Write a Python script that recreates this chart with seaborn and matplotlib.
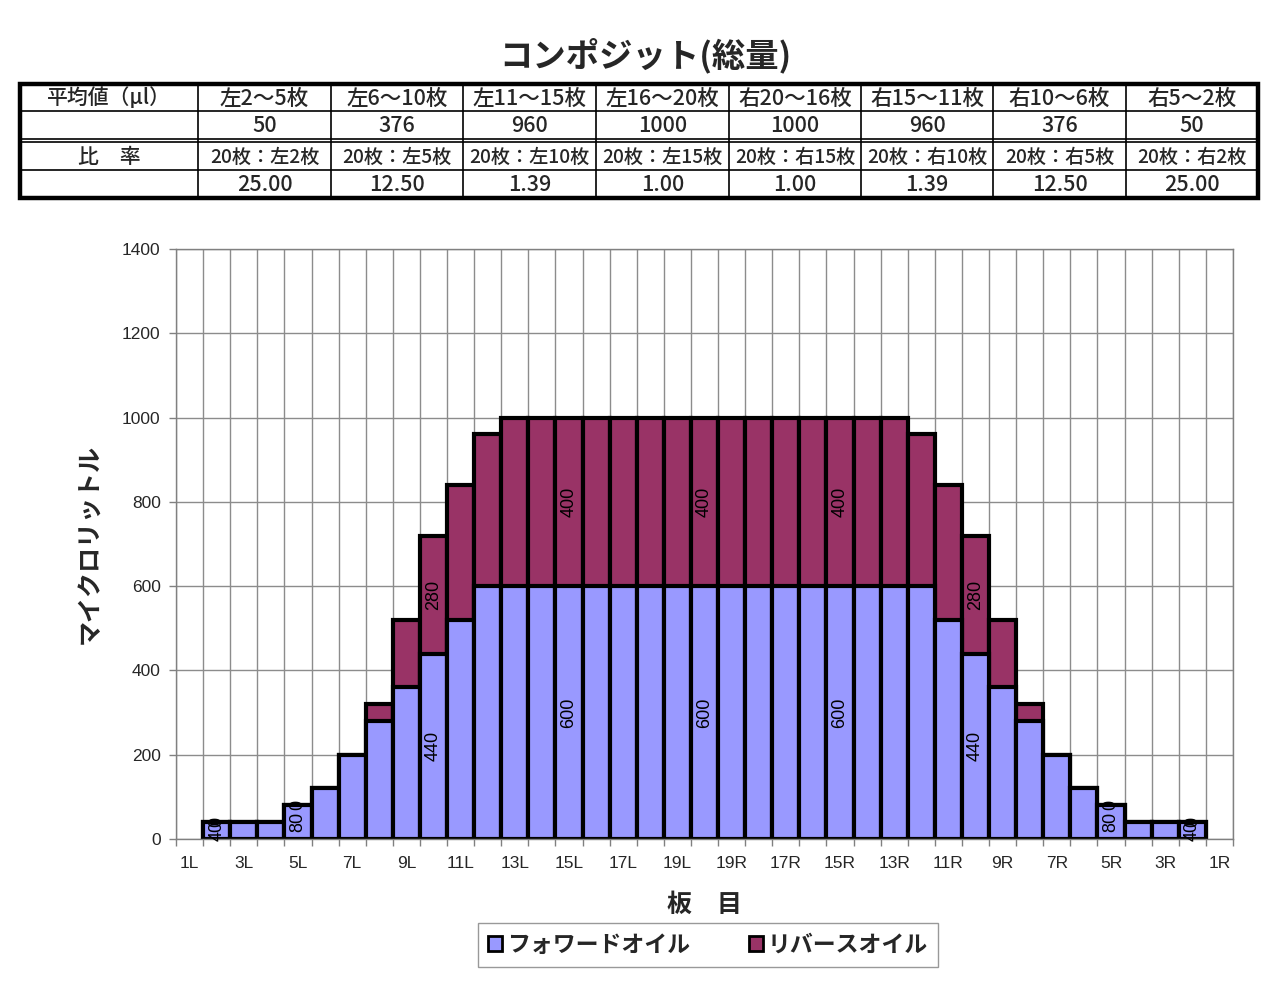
import numpy as np
import pandas as pd
import seaborn as sns
import matplotlib.pyplot as plt
import matplotlib.patches as mpatches

# categories along the x axis (board positions)
categories = ["1L", "2L", "3L", "4L", "5L", "6L", "7L", "8L", "9L", "10L",
              "11L", "12L", "13L", "14L", "15L", "16L", "17L", "18L", "19L", "20",
              "19R", "18R", "17R", "16R", "15R", "14R", "13R", "12R", "11R", "10R",
              "9R", "8R", "7R", "6R", "5R", "4R", "3R", "2R", "1R"]

forward_oil = [np.nan, 40, 40, 40, 80, 120, 200, 280, 360, 440,
               520, 600, 600, 600, 600, 600, 600, 600, 600, 600,
               600, 600, 600, 600, 600, 600, 600, 600, 520, 440,
               360, 280, 200, 120, 80, 40, 40, 40, np.nan]

reverse_oil = [np.nan, 0, 0, 0, 0, 0, 0, 40, 160, 280,
               320, 360, 400, 400, 400, 400, 400, 400, 400, 400,
               400, 400, 400, 400, 400, 400, 400, 360, 320, 280,
               160, 40, 0, 0, 0, 0, 0, 0, np.nan]

# categories that carry data labels
label_cats = ["2L", "5L", "10L", "15L", "20", "15R", "10R", "5R", "2R"]

# summary table above the chart
avg_title = "平均値（μl）"
avg_headers = ["左2～5枚", "左6～10枚", "左11～15枚", "左16～20枚",
               "右20～16枚", "右15～11枚", "右10～6枚", "右5～2枚"]
avg_values = ["50", "376", "960", "1000", "1000", "960", "376", "50"]
ratio_title = "比　率"
ratio_headers = ["20枚：左2枚", "20枚：左5枚", "20枚：左10枚", "20枚：左15枚",
                 "20枚：右15枚", "20枚：右10枚", "20枚：右5枚", "20枚：右2枚"]
ratio_values = ["25.00", "12.50", "1.39", "1.00", "1.00", "1.39", "12.50", "25.00"]

FWD_COLOR = "#9999FF"
REV_COLOR = "#993366"

sns.set_theme(style="white")
plt.rcParams["font.family"] = ["Liberation Sans", "Noto Sans CJK JP", "DejaVu Sans"]
JP = ["Noto Sans CJK JP", "DejaVu Sans"]

df = pd.DataFrame({"cat": categories, "forward": forward_oil, "reverse": reverse_oil})
df["total"] = df["forward"] + df["reverse"]
bars = df.dropna()

fig = plt.figure(figsize=(12.8, 10), dpi=100)
ax = fig.add_axes([176 / 1280, 161 / 1000, 1057 / 1280, 590 / 1000])

# stacked look: totals in reverse colour, forward drawn over the lower part
sns.barplot(data=bars, x="cat", y="total", order=categories, color=REV_COLOR,
            saturation=1, width=1, edgecolor="black", linewidth=3,
            errorbar=None, ax=ax)
sns.barplot(data=bars, x="cat", y="forward", order=categories, color=FWD_COLOR,
            saturation=1, width=1, edgecolor="black", linewidth=3,
            errorbar=None, ax=ax)

# data labels
for cat in label_cats:
    i = categories.index(cat)
    f = forward_oil[i]
    r = reverse_oil[i]
    ax.text(i, f / 2, f"{f:g}", rotation=90, ha="center", va="center",
            fontsize=13, color="black", zorder=5)
    ax.text(i, f + r / 2, f"{r:g}", rotation=90, ha="center", va="center",
            fontsize=13, color="black", zorder=5)

n = len(categories)
ax.set_xlim(-0.5, n - 0.5)
ax.set_ylim(0, 1400)
ax.set_yticks(range(0, 1401, 200))
ax.set_xticks(range(0, n, 2))
ax.set_xticklabels(categories[::2])
ax.set_xticks(np.arange(-0.5, n, 1), minor=True)
ax.tick_params(axis="x", which="major", length=0, pad=12, labelsize=12.5)
ax.tick_params(axis="x", which="minor", length=5, color="#808080", width=1,
               direction="out", bottom=True)
ax.tick_params(axis="y", length=5, color="#808080", width=1, direction="out",
               left=True, labelsize=12.5, pad=6)
ax.set_axisbelow(True)
ax.grid(False)
ax.grid(True, axis="x", which="minor", color="#8c8c8c", linewidth=1)
ax.grid(True, axis="y", which="major", color="#8c8c8c", linewidth=1)
for s in ax.spines.values():
    s.set_color("#808080")
    s.set_linewidth(1)

ax.set_xlabel("板　目", fontsize=18, fontweight="bold", family=JP, labelpad=16)
ax.set_ylabel("マイクロリットル", fontsize=18, fontweight="bold", family=JP, labelpad=14)

handles = [mpatches.Patch(facecolor=FWD_COLOR, edgecolor="black", linewidth=2, label="フォワードオイル"),
           mpatches.Patch(facecolor=REV_COLOR, edgecolor="black", linewidth=2, label="リバースオイル")]
leg = fig.legend(handles=handles, loc="center", bbox_to_anchor=(708 / 1280, 1 - 945 / 1000),
                 ncol=2, frameon=True, fancybox=False, handlelength=0.6, handleheight=0.6,
                 handletextpad=0.2, columnspacing=2.6, borderpad=0.45,
                 prop={"family": JP, "weight": "bold", "size": 16.5})
leg.get_frame().set_edgecolor("#808080")
leg.get_frame().set_linewidth(1)

# title and table drawn in a pixel-coordinate overlay
tab = fig.add_axes([0, 0, 1, 1], facecolor="none")
tab.set_xlim(0, 1280)
tab.set_ylim(1000, 0)
tab.axis("off")

tab.text(645, 55, "コンポジット(総量)", ha="center", va="center", fontsize=24,
         fontweight="bold", family=JP)

col_x = [20, 198, 331, 463, 596, 729, 861, 993, 1126, 1258]
row_y = [84, 111, 139, 142, 170, 198]
lw_thin = 1.2
for x in col_x[1:-1]:
    tab.plot([x, x], [row_y[0], row_y[-1]], color="black", lw=lw_thin)
for y in row_y[1:-1]:
    tab.plot([col_x[0], col_x[-1]], [y, y], color="black", lw=lw_thin)
tab.add_patch(mpatches.Rectangle((col_x[0], row_y[0]), col_x[-1] - col_x[0],
                                 row_y[-1] - row_y[0], fill=False,
                                 edgecolor="black", lw=3.2))

rows = [(avg_title, avg_headers, (row_y[0] + row_y[1]) / 2),
        ("", avg_values, (row_y[1] + row_y[2]) / 2),
        (ratio_title, ratio_headers, (row_y[3] + row_y[4]) / 2),
        ("", ratio_values, (row_y[4] + row_y[5]) / 2)]
for first, cells, yc in rows:
    tab.text((col_x[0] + col_x[1]) / 2, yc + 1, first, ha="center", va="center",
             fontsize=15, family=JP, fontweight="medium")
    for j, txt in enumerate(cells):
        tab.text((col_x[j + 1] + col_x[j + 2]) / 2, yc + 1, txt, ha="center",
                 va="center", fontsize=13.8 if "：" in txt else 15.5, family=JP,
                 fontweight="medium")

plt.savefig("out.png", dpi=100)
